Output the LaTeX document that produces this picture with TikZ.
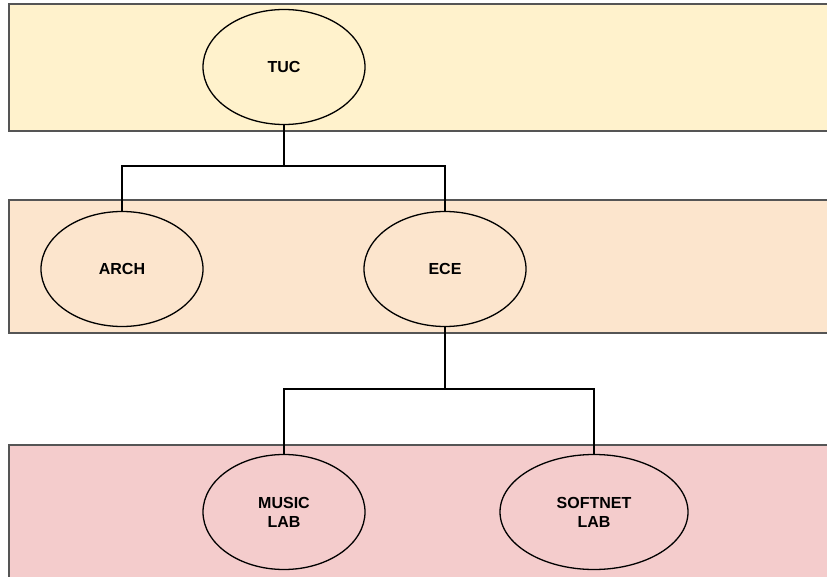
\documentclass[tikz,border=0pt]{standalone}
\usepackage{fontspec}
\setmainfont{Liberation Sans}
\usetikzlibrary{shapes.geometric}
\definecolor{bandA}{HTML}{FFF2CC}
\definecolor{bandB}{HTML}{FCE5CD}
\definecolor{bandC}{HTML}{F4CCCC}
\definecolor{bandline}{HTML}{555555}
\begin{document}
\begin{tikzpicture}[x=1pt,y=-1pt,
  band/.style={draw=bandline,line width=1.5pt},
  unit/.style={ellipse,draw=black,line width=1.3pt,minimum width=162pt,minimum height=115pt,inner sep=0pt,
    font=\fontsize{16}{19}\selectfont\bfseries,align=center},
  link/.style={draw=black,line width=1.8pt}]
\useasboundingbox (0,0) rectangle (827,577);
\fill[white] (0,0) rectangle (827,577);
\draw[band,fill=bandA] (9,4) rectangle (840,131);
\draw[band,fill=bandB] (9,200) rectangle (840,333);
\draw[band,fill=bandC] (9,445) rectangle (840,590);
\node[unit,fill=bandA] (tuc) at (284,67) {TUC};
\node[unit,fill=bandB] (arch) at (122,269) {ARCH};
\node[unit,fill=bandB] (ece) at (445,269) {ECE};
\node[unit,fill=bandC] (music) at (284,512) {MUSIC\\LAB};
\node[unit,fill=bandC,minimum width=188pt] (softnet) at (594,512) {SOFTNET\\LAB};
\coordinate (j1) at (284,166);
\coordinate (j2) at (445,389);
\draw[link] (tuc.south) -- (j1) -| (arch.north);
\draw[link] (j1) -| (ece.north);
\draw[link] (ece.south) -- (j2) -| (music.north);
\draw[link] (j2) -| (softnet.north);
\end{tikzpicture}
\end{document}
